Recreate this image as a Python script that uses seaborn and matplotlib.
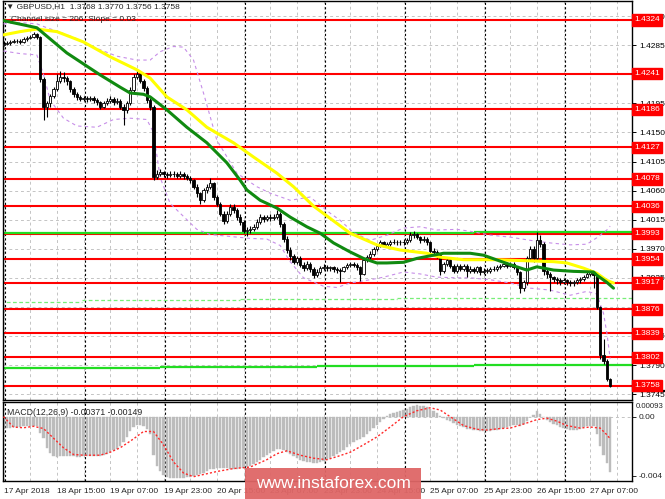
import numpy as np
import matplotlib
matplotlib.use('Agg')
import matplotlib.pyplot as plt
from matplotlib.transforms import blended_transform_factory
from matplotlib.patches import Rectangle
import seaborn as sns

# ---- data (GBPUSD H1, 17-27 Apr 2018) ----
OPEN_FIRST = 1.4285
CLOSES = [
    1.4287, 1.4289, 1.4290, 1.4291, 1.4292, 1.4290, 1.4294, 1.4296, 1.4298, 1.4302,
    1.4297, 1.4232, 1.4190, 1.4195, 1.4206, 1.4217, 1.4230, 1.4236, 1.4234, 1.4229,
    1.4217, 1.4209, 1.4205, 1.4202, 1.4203, 1.4201, 1.4203, 1.4200, 1.4197, 1.4190,
    1.4195, 1.4199, 1.4202, 1.4197, 1.4199, 1.4190, 1.4185, 1.4195, 1.4216, 1.4236,
    1.4241, 1.4230, 1.4218, 1.4200, 1.4190, 1.4081, 1.4086, 1.4088, 1.4085, 1.4084,
    1.4086, 1.4085, 1.4083, 1.4086, 1.4082, 1.4080, 1.4076, 1.4066, 1.4056, 1.4045,
    1.4061, 1.4066, 1.4072, 1.4050, 1.4040, 1.4024, 1.4013, 1.4024, 1.4035, 1.4030,
    1.4019, 1.4011, 1.3998, 1.3999, 1.4000, 1.4004, 1.4011, 1.4019, 1.4016, 1.4019,
    1.4017, 1.4019, 1.4024, 1.4009, 1.3985, 1.3968, 1.3958, 1.3950, 1.3955, 1.3945,
    1.3940, 1.3947, 1.3938, 1.3930, 1.3934, 1.3940, 1.3942, 1.3940, 1.3941, 1.3938,
    1.3937, 1.3936, 1.3941, 1.3945, 1.3947, 1.3945, 1.3941, 1.3931, 1.3953, 1.3957,
    1.3962, 1.3970, 1.3975, 1.3980, 1.3975, 1.3978, 1.3980, 1.3981, 1.3980, 1.3980,
    1.3981, 1.3983, 1.3991, 1.3993, 1.3988, 1.3983, 1.3985, 1.3980, 1.3967, 1.3965,
    1.3960, 1.3936, 1.3947, 1.3952, 1.3944, 1.3936, 1.3944, 1.3939, 1.3944, 1.3936,
    1.3939, 1.3936, 1.3941, 1.3934, 1.3936, 1.3936, 1.3938, 1.3939, 1.3941, 1.3944,
    1.3946, 1.3944, 1.3947, 1.3941, 1.3934, 1.3910, 1.3918, 1.3955, 1.3970, 1.3955,
    1.3983, 1.3978, 1.3936, 1.3931, 1.3926, 1.3923, 1.3921, 1.3918, 1.3921, 1.3918,
    1.3917, 1.3918, 1.3921, 1.3923, 1.3926, 1.3931, 1.3934, 1.3929, 1.3880, 1.3805,
    1.3796, 1.3768, 1.3758,
]
HIGHS = [
    1.4291, 1.4292, 1.4293, 1.4294, 1.4295, 1.4294, 1.4297, 1.4299, 1.4301, 1.4305,
    1.4304, 1.4299, 1.4236, 1.4199, 1.4210, 1.4221, 1.4240, 1.4245, 1.4243, 1.4238,
    1.4231, 1.4220, 1.4212, 1.4208, 1.4207, 1.4206, 1.4207, 1.4206, 1.4203, 1.4199,
    1.4199, 1.4203, 1.4206, 1.4205, 1.4204, 1.4202, 1.4194, 1.4198, 1.4220, 1.4240,
    1.4246, 1.4243, 1.4233, 1.4222, 1.4204, 1.4192, 1.4092, 1.4094, 1.4091, 1.4089,
    1.4090, 1.4090, 1.4088, 1.4090, 1.4089, 1.4085, 1.4083, 1.4078, 1.4070, 1.4058,
    1.4064, 1.4070, 1.4080, 1.4074, 1.4053, 1.4043, 1.4028, 1.4028, 1.4040, 1.4039,
    1.4033, 1.4023, 1.4014, 1.4004, 1.4005, 1.4008, 1.4016, 1.4023, 1.4022, 1.4022,
    1.4023, 1.4023, 1.4030, 1.4027, 1.4012, 1.3990, 1.3972, 1.3962, 1.3959, 1.3958,
    1.3949, 1.3951, 1.3950, 1.3941, 1.3938, 1.3943, 1.3946, 1.3945, 1.3944, 1.3943,
    1.3941, 1.3940, 1.3944, 1.3948, 1.3950, 1.3950, 1.3948, 1.3943, 1.3956, 1.3960,
    1.3966, 1.3973, 1.3978, 1.3984, 1.3982, 1.3981, 1.3983, 1.3985, 1.3984, 1.3984,
    1.3985, 1.3987, 1.3996, 1.3998, 1.3995, 1.3990, 1.3989, 1.3988, 1.3982, 1.3971,
    1.3968, 1.3962, 1.3950, 1.3956, 1.3954, 1.3947, 1.3947, 1.3947, 1.3947, 1.3946,
    1.3943, 1.3942, 1.3944, 1.3944, 1.3940, 1.3940, 1.3941, 1.3943, 1.3945, 1.3947,
    1.3950, 1.3949, 1.3950, 1.3949, 1.3943, 1.3936, 1.3922, 1.3958, 1.3974, 1.3975,
    1.3996, 1.3991, 1.3980, 1.3940, 1.3934, 1.3928, 1.3926, 1.3924, 1.3924, 1.3923,
    1.3921, 1.3922, 1.3924, 1.3926, 1.3929, 1.3934, 1.3938, 1.3936, 1.3932, 1.3882,
    1.3830, 1.3800, 1.3770,
]
LOWS = [
    1.4283, 1.4285, 1.4286, 1.4288, 1.4288, 1.4287, 1.4289, 1.4292, 1.4294, 1.4296,
    1.4294, 1.4228, 1.4170, 1.4174, 1.4190, 1.4203, 1.4214, 1.4226, 1.4228, 1.4224,
    1.4213, 1.4205, 1.4200, 1.4198, 1.4199, 1.4197, 1.4199, 1.4196, 1.4193, 1.4186,
    1.4188, 1.4193, 1.4196, 1.4193, 1.4194, 1.4186, 1.4161, 1.4180, 1.4192, 1.4212,
    1.4232, 1.4226, 1.4214, 1.4195, 1.4185, 1.4076, 1.4078, 1.4082, 1.4081, 1.4080,
    1.4081, 1.4081, 1.4079, 1.4080, 1.4078, 1.4076, 1.4071, 1.4062, 1.4050, 1.4040,
    1.4042, 1.4057, 1.4062, 1.4046, 1.4036, 1.4020, 1.4008, 1.4010, 1.4020, 1.4026,
    1.4015, 1.4007, 1.3994, 1.3990, 1.3995, 1.3997, 1.4001, 1.4008, 1.4012, 1.4013,
    1.4013, 1.4014, 1.4016, 1.4004, 1.3981, 1.3963, 1.3953, 1.3946, 1.3947, 1.3942,
    1.3935, 1.3937, 1.3934, 1.3925, 1.3927, 1.3931, 1.3937, 1.3936, 1.3936, 1.3934,
    1.3933, 1.3919, 1.3934, 1.3939, 1.3942, 1.3941, 1.3937, 1.3920, 1.3930, 1.3949,
    1.3954, 1.3959, 1.3966, 1.3972, 1.3972, 1.3972, 1.3975, 1.3977, 1.3976, 1.3976,
    1.3976, 1.3978, 1.3981, 1.3987, 1.3985, 1.3979, 1.3980, 1.3976, 1.3963, 1.3960,
    1.3955, 1.3930, 1.3933, 1.3944, 1.3940, 1.3932, 1.3933, 1.3935, 1.3936, 1.3926,
    1.3932, 1.3932, 1.3933, 1.3930, 1.3931, 1.3932, 1.3933, 1.3935, 1.3936, 1.3939,
    1.3941, 1.3940, 1.3941, 1.3938, 1.3930, 1.3901, 1.3905, 1.3914, 1.3951, 1.3950,
    1.3952, 1.3972, 1.3930, 1.3925, 1.3905, 1.3918, 1.3916, 1.3914, 1.3915, 1.3914,
    1.3913, 1.3913, 1.3915, 1.3917, 1.3920, 1.3924, 1.3928, 1.3910, 1.3876, 1.3800,
    1.3792, 1.3765, 1.3756,
]

# moving averages and channel, sampled along the bars
GREEN_MA_BARS = [0, 10, 19, 29, 35, 38, 42, 44, 49, 55, 61, 67, 71, 73, 77, 82, 86, 91, 95,
                 99, 104, 108, 112, 115, 120, 124, 129, 132, 140, 144, 150, 154, 157, 160,
                 165, 171, 177, 178, 181, 183]
GREEN_MA = [1.4323, 1.4312, 1.4273, 1.4239, 1.4220, 1.4211, 1.4209, 1.4205, 1.4185, 1.4158,
            1.4134, 1.4103, 1.4076, 1.4061, 1.4045, 1.4033, 1.4019, 1.4004, 1.3994,
            1.3979, 1.3965, 1.3955, 1.3948, 1.3948, 1.3949, 1.3955, 1.3960, 1.3963, 1.3963,
            1.3960, 1.3949, 1.3942, 1.3937, 1.3942, 1.3937, 1.3935, 1.3934, 1.3929,
            1.3918, 1.3909]
YELLOW_MA_BARS = [0, 5, 10, 16, 24, 32, 40, 44, 49, 55, 61, 69, 75, 82, 87, 93, 104, 112,
                  119, 127, 131, 138, 148, 159, 165, 169, 174, 178, 181, 183]
YELLOW_MA = [1.4301, 1.4306, 1.4310, 1.4306, 1.4290, 1.4267, 1.4247, 1.4234, 1.4205, 1.4185,
             1.4158, 1.4134, 1.4112, 1.4087, 1.4066, 1.4036, 1.3994, 1.3976, 1.3968, 1.3963,
             1.3957, 1.3953, 1.3953, 1.3951, 1.3950, 1.3948, 1.3940, 1.3932, 1.3921, 1.3917]
BAND_UP_BARS = [0, 5, 10, 13, 17, 22, 28, 34, 40, 44, 47, 51, 54, 57, 60, 64, 70, 76, 80, 86,
                92, 98, 101, 105, 110, 115, 120, 125, 130, 136, 140, 146, 152, 158, 164, 170,
                175, 178, 181, 182]
BAND_UP = [1.4318, 1.4320, 1.4318, 1.4312, 1.4305, 1.4295, 1.4280, 1.4268, 1.4262, 1.4262,
           1.4275, 1.4283, 1.4282, 1.4262, 1.4211, 1.4138, 1.4087, 1.4066, 1.4056, 1.4045,
           1.4050, 1.4025, 1.4014, 1.3995, 1.3983, 1.3991, 1.4002, 1.4004, 1.3999, 1.4000,
           1.3997, 1.3991, 1.3988, 1.3983, 1.3979, 1.3976, 1.3977, 1.3987, 1.3999, 1.4005]
BAND_LO_BARS = [0, 5, 10, 12, 14, 18, 22, 28, 33, 38, 43, 45, 47, 50, 54, 58, 62, 66, 70, 74,
                79, 83, 86, 90, 96, 100, 104, 110, 114, 120, 125, 130, 136, 140, 146, 152,
                158, 164, 170, 175, 178, 180, 181, 182]
BAND_LO = [1.4276, 1.4272, 1.4270, 1.4240, 1.4200, 1.4172, 1.4160, 1.4158, 1.4170, 1.4172,
           1.4170, 1.4150, 1.4080, 1.4040, 1.4020, 1.4000, 1.3992, 1.3990, 1.3988, 1.3986,
           1.3985, 1.3975, 1.3950, 1.3925, 1.3912, 1.3910, 1.3917, 1.3922, 1.3926, 1.3934,
           1.3931, 1.3926, 1.3925, 1.3925, 1.3922, 1.3917, 1.3909, 1.3906, 1.3898, 1.3904,
           1.3900, 1.3870, 1.3840, 1.3800]

RED_LEVELS = [1.4324, 1.4241, 1.4186, 1.4127, 1.4078, 1.4036, 1.3993,
              1.3954, 1.3917, 1.3876, 1.3839, 1.3802, 1.3758]
BID_PRICE = 1.3750
# (price, from bar, to bar)
GREEN_SOLID = [(1.3994, -1, 47), (1.3995, 47, 141), (1.3996, 141, 190),
               (1.3786, -1, 47), (1.3787, 47, 94), (1.3788, 94, 141), (1.3790, 141, 190)]
GREEN_DASHED = [(1.3888, -1, 23.5), (1.3890, 23.5, 71), (1.3892, 71, 118), (1.3894, 118, 190)]
PRICE_TICKS = [1.4330, 1.4285, 1.4240, 1.4195, 1.4150, 1.4105, 1.4060, 1.4015,
               1.3970, 1.3925, 1.3880, 1.3835, 1.3790, 1.3745]
# tick labels that sit fully under a level box are not shown on the chart
HIDDEN_TICKS = [1.4240, 1.3880]

MACD_HIST = [
    -0.00077, -0.00077, -0.00075, -0.00072, -0.00070, -0.00068, -0.00066, -0.00064, -0.00062, -0.00060,
    -0.00062, -0.00110, -0.00145, -0.00210, -0.00246, -0.00265, -0.00271, -0.00268, -0.00262, -0.00262,
    -0.00265, -0.00268, -0.00270, -0.00270, -0.00268, -0.00266, -0.00264, -0.00262, -0.00262, -0.00262,
    -0.00260, -0.00250, -0.00240, -0.00228, -0.00215, -0.00195, -0.00170, -0.00135, -0.00100, -0.00070,
    -0.00056, -0.00058, -0.00065, -0.00080, -0.00120, -0.00260, -0.00330, -0.00365, -0.00395, -0.00410,
    -0.00413, -0.00415, -0.00415, -0.00413, -0.00412, -0.00410, -0.00405, -0.00400, -0.00395, -0.00390,
    -0.00380, -0.00365, -0.00355, -0.00350, -0.00346, -0.00345, -0.00346, -0.00348, -0.00350, -0.00352,
    -0.00350, -0.00348, -0.00346, -0.00340, -0.00333, -0.00320, -0.00305, -0.00290, -0.00275, -0.00260,
    -0.00245, -0.00232, -0.00220, -0.00215, -0.00225, -0.00240, -0.00255, -0.00268, -0.00280, -0.00290,
    -0.00298, -0.00303, -0.00307, -0.00310, -0.00310, -0.00305, -0.00298, -0.00290, -0.00280, -0.00268,
    -0.00255, -0.00240, -0.00225, -0.00205, -0.00185, -0.00170, -0.00155, -0.00150, -0.00135, -0.00115,
    -0.00095, -0.00075, -0.00055, -0.00035, -0.00015, 0.00005, 0.00015, 0.00025, 0.00032, 0.00040,
    0.00047, 0.00055, 0.00065, 0.00075, 0.00078, 0.00075, 0.00070, 0.00062, 0.00050, 0.00040,
    0.00028, 0.00005, -0.00010, -0.00020, -0.00030, -0.00042, -0.00055, -0.00065, -0.00072, -0.00080,
    -0.00085, -0.00090, -0.00092, -0.00095, -0.00096, -0.00097, -0.00096, -0.00093, -0.00088, -0.00082,
    -0.00075, -0.00070, -0.00062, -0.00058, -0.00055, -0.00060, -0.00050, -0.00030, -0.00005, 0.00010,
    0.00035, 0.00020, -0.00005, -0.00020, -0.00035, -0.00048, -0.00058, -0.00068, -0.00075, -0.00082,
    -0.00088, -0.00090, -0.00088, -0.00080, -0.00072, -0.00065, -0.00060, -0.00062, -0.00120, -0.00200,
    -0.00260, -0.00310, -0.00371,
]
SIGNAL_BARS = [0, 3, 6, 9, 12, 15, 18, 21, 24, 29, 32, 35, 39, 42, 45, 48, 51, 54, 57, 60, 64,
               69, 74, 79, 82, 85, 89, 93, 97, 100, 104, 108, 112, 116, 120, 124, 128, 131,
               134, 138, 142, 145, 149, 152, 156, 160, 163, 166, 169, 173, 176, 179, 181, 182]
SIGNAL = [0.0, -0.0007, -0.00075, -0.00065, -0.0008, -0.00145, -0.0021, -0.00255, -0.0026,
          -0.0026, -0.0024, -0.0021, -0.0015, -0.0010, -0.0010, -0.0019, -0.00305, -0.0038,
          -0.00405, -0.0039, -0.0037, -0.0035, -0.0034, -0.0029, -0.0025, -0.0023, -0.0026,
          -0.0028, -0.0029, -0.0027, -0.0024, -0.0019, -0.00137, -0.0007, 0.0, 0.0004, 0.0006,
          0.00045, 0.0, -0.0006, -0.00085, -0.0009, -0.0008, -0.00077, -0.0005, -0.0002,
          -0.0001, -0.0003, -0.0006, -0.00077, -0.0007, -0.00077, -0.00122, -0.00149]
MACD_TOP_LABEL = '0.00093'

DATE_BARS = [0, 16, 32, 48, 64, 80, 96, 112, 128, 144, 160, 176]
DATE_LABELS = ['17 Apr 2018', '18 Apr 15:00', '19 Apr 07:00', '19 Apr 23:00', '20 Apr 15:00',
               '23 Apr 07:00', '23 Apr 23:00', '24 Apr 15:00', '25 Apr 07:00', '25 Apr 23:00',
               '26 Apr 15:00', '27 Apr 07:00']
DAY_STARTS = [0.5, 24.5, 48.5, 72.5, 96.5, 120.5, 144.5, 168.5]

sns.set_style('white')
plt.rcParams['font.family'] = ['Liberation Sans', 'DejaVu Sans']

fig = plt.figure(figsize=(6.65, 4.99), dpi=100)
ax = fig.add_axes([3 / 665, 1 - 400 / 499, 629 / 665, 399 / 499])
axm = fig.add_axes([3 / 665, 1 - 481 / 499, 629 / 665, 79 / 499])

XLIM = (-0.15, 188.55)
grid_kw = dict(color='#c4c4c4', lw=0.7, ls=(0, (3, 3)), zorder=0.5)
sep_kw = dict(color='black', lw=0.8, ls=(0, (2, 2)), zorder=0.6)

# ---------- price panel ----------
for p in PRICE_TICKS:
    ax.axhline(p, **grid_kw)
for a in (ax, axm):
    for b in range(0, 189, 8):
        a.axvline(b, **grid_kw)
    for b in DAY_STARTS:
        a.axvline(b, **sep_kw)

for lvl in RED_LEVELS:
    ax.axhline(lvl, color='#ff0000', lw=1.5, zorder=2)
for p, x0, x1 in GREEN_SOLID:
    ax.hlines(p, x0, x1, color='#22dd22', lw=1.6, zorder=2.5)
for p, x0, x1 in GREEN_DASHED:
    ax.hlines(p, x0, x1, color='#77ee77', lw=0.9, ls=(0, (3, 2)), zorder=2.5)

sns.lineplot(x=BAND_UP_BARS, y=BAND_UP, ax=ax, color='#c78ee8', lw=0.8,
             linestyle=(0, (3, 3)), estimator=None, sort=False, zorder=3)
sns.lineplot(x=BAND_LO_BARS, y=BAND_LO, ax=ax, color='#c78ee8', lw=0.8,
             linestyle=(0, (3, 3)), estimator=None, sort=False, zorder=3)

closes = np.array(CLOSES)
opens = np.array([OPEN_FIRST] + CLOSES[:-1])
xs = np.arange(len(closes))
up = closes >= opens
body = np.maximum(np.abs(closes - opens), 0.00004)
ax.vlines(xs, LOWS, HIGHS, color='black', lw=0.8, zorder=4)
ax.bar(xs[up], body[up], bottom=opens[up], width=0.68, color='white',
       edgecolor='black', lw=0.6, zorder=5)
ax.bar(xs[~up], body[~up], bottom=closes[~up], width=0.68, color='black',
       edgecolor='black', lw=0.6, zorder=5)

sns.lineplot(x=YELLOW_MA_BARS, y=YELLOW_MA, ax=ax, color='#ffff00', lw=2.2,
             estimator=None, sort=False, zorder=6)
sns.lineplot(x=GREEN_MA_BARS, y=GREEN_MA, ax=ax, color='#108a10', lw=2.2,
             estimator=None, sort=False, zorder=6.5)

ax.set_xlim(*XLIM)
ax.set_ylim(1.37359, 1.43534)
ax.yaxis.tick_right()
ax.set_yticks(PRICE_TICKS)
ax.set_yticklabels(['' if p in HIDDEN_TICKS else f'{p:.4f}' for p in PRICE_TICKS])
ax.tick_params(axis='y', labelsize=6, length=3, width=0.7, pad=2, colors='black')
ax.tick_params(axis='x', bottom=False, labelbottom=False)
ax.set_xlabel('')
ax.set_ylabel('')

trans = blended_transform_factory(ax.transAxes, ax.transData)
ax.plot([1.0, 1.06], [BID_PRICE, BID_PRICE], transform=trans, color='black', lw=1.6,
        clip_on=False, zorder=9, solid_capstyle='butt')
for lvl in RED_LEVELS:
    ax.text(1.004, lvl, f'{lvl:.4f}', transform=trans, color='white', fontsize=6,
            va='center', ha='left', clip_on=False, zorder=10,
            bbox=dict(boxstyle='square,pad=0.25', fc='#ff0000', ec='#ff0000'))

ax.text(0.004, 0.995, '\u25bc GBPUSD,H1  1.3768 1.3770 1.3756 1.3758', transform=ax.transAxes,
        fontsize=6, va='top', ha='left', zorder=11)
ax.text(0.012, 0.962, 'Channel size = 206  Slope = 0.03', transform=ax.transAxes,
        fontsize=6, va='top', ha='left', zorder=11)

# ---------- MACD panel ----------
axm.axhline(0, **grid_kw)
axm.bar(xs, MACD_HIST, width=0.74, color='#bcbcbc', edgecolor='#bcbcbc', lw=0.3, zorder=2)
sns.lineplot(x=SIGNAL_BARS, y=SIGNAL, ax=axm, color='#ff2a2a', lw=1.0,
             linestyle=(0, (1.5, 1.5)), estimator=None, sort=False, zorder=3)
axm.set_xlim(*XLIM)
axm.set_ylim(-0.00434, 0.00099)
axm.yaxis.tick_right()
axm.set_yticks([0.0, -0.004])
axm.set_yticklabels(['0.00', '-0.004'])
axm.tick_params(axis='y', labelsize=6, length=3, width=0.7, pad=2)
axm.text(1.006, 0.985, MACD_TOP_LABEL, transform=axm.transAxes, fontsize=5.6,
         va='top', ha='left')
axm.set_xticks(DATE_BARS)
axm.set_xticklabels(DATE_LABELS, ha='left')
axm.tick_params(axis='x', labelsize=6, length=3, width=0.7, pad=2)
axm.set_xlabel('')
axm.set_ylabel('')
axm.text(0.006, 0.93, 'MACD(12,26,9) -0.00371 -0.00149', transform=axm.transAxes,
         fontsize=6.3, va='top', ha='left', zorder=5)

for a in (ax, axm):
    for s in a.spines.values():
        s.set_color('black')
        s.set_linewidth(1.0)

# watermark
fig.patches.append(Rectangle((245 / 665, 0), 176 / 665, 31 / 499, transform=fig.transFigure,
                             fc='#df6666', ec='none', alpha=0.95, zorder=20))
fig.text(333 / 665, 16 / 499, 'www.instaforex.com', color='white', fontsize=12.5,
         ha='center', va='center', zorder=21)

fig.savefig('out.png', dpi=100)
